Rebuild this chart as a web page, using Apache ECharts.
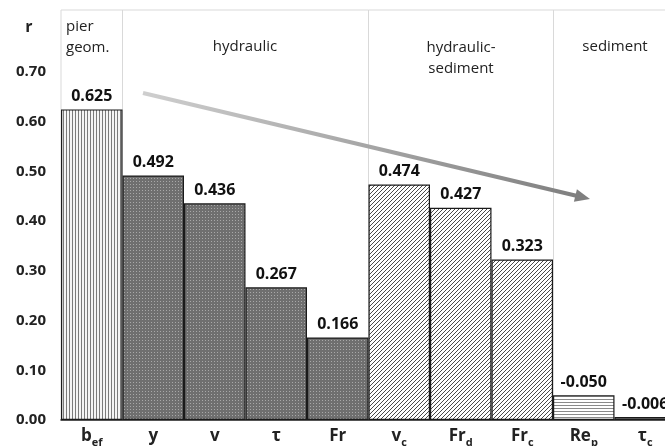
<!DOCTYPE html>
<html>
<head>
<meta charset="utf-8">
<script src="https://cdn.jsdelivr.net/npm/echarts@6/dist/echarts.min.js"></script>
<style>
  html, body { margin: 0; padding: 0; background: #fff; overflow: hidden; }
  #chart { width: 676px; height: 446px; }
</style>
</head>
<body>
<div id="chart"></div>
<script>
// 变量：主符号 + 下标
const catBase = ["b", "y", "v", "τ", "Fr", "v", "Fr", "Fr", "Re", "τ"];
const catSub = ["ef", "", "", "", "", "c", "d", "c", "p", "c"];
// 相关系数 r
const rValues = [0.625, 0.492, 0.436, 0.267, 0.166, 0.474, 0.427, 0.323, -0.050, -0.006];
// 所属类别
const groupOf = ["pier", "hyd", "hyd", "hyd", "hyd", "hydsed", "hydsed", "hydsed", "sed", "sed2"];
const yTicks = [0, 0.1, 0.2, 0.3, 0.4, 0.5, 0.6, 0.7];

const font = "'Open Sans', 'Noto Sans', sans-serif";

// 画填充图案
function makePattern(w, h, bg, draw) {
  const c = document.createElement("canvas");
  c.width = w;
  c.height = h;
  const ctx = c.getContext("2d");
  ctx.fillStyle = bg;
  ctx.fillRect(0, 0, w, h);
  draw(ctx);
  return { image: c, repeat: "repeat" };
}
const patterns = {
  pier: makePattern(3, 3, "#f4f4f4", ctx => {
    ctx.fillStyle = "#7a7a7a";
    ctx.fillRect(0, 0, 1, 3);
  }),
  hyd: makePattern(3, 3, "#6f6f6f", ctx => {
    ctx.fillStyle = "#a8a8a8";
    ctx.fillRect(1, 1, 1, 1);
  }),
  hydsed: makePattern(4, 4, "#ffffff", ctx => {
    ctx.strokeStyle = "#4a4a4a";
    ctx.lineWidth = 1;
    ctx.beginPath();
    ctx.moveTo(-1, 5);
    ctx.lineTo(5, -1);
    ctx.moveTo(-1, 1);
    ctx.lineTo(1, -1);
    ctx.moveTo(3, 5);
    ctx.lineTo(5, 3);
    ctx.stroke();
  }),
  sed: makePattern(3, 3, "#ffffff", ctx => {
    ctx.fillStyle = "#8a8a8a";
    ctx.fillRect(0, 0, 3, 1);
  }),
  sed2: "#8c8c8c"
};

const chartDom = document.getElementById("chart");
const chart = echarts.init(chartDom, null, { renderer: "canvas" });

const barData = rValues.map((v, i) => ({
  value: Math.abs(v),
  raw: v,
  itemStyle: { color: patterns[groupOf[i]] }
}));

// 箭头
const ax1 = 143, ay1 = 93, tipX = 590, tipY = 199;
const dx = tipX - ax1, dy = tipY - ay1;
const len = Math.sqrt(dx * dx + dy * dy);
const ux = dx / len, uy = dy / len;
const headL = 15, headW = 6.5;
const bx = tipX - ux * headL, by = tipY - uy * headL;

const textStyle = (txt, align) => ({
  text: txt,
  font: "15px " + font,
  fill: "#222",
  align: align || "center",
  verticalAlign: "middle",
  lineHeight: 21
});

const option = {
  animation: false,
  backgroundColor: "#fff",
  grid: {
    left: 61,
    right: 0,
    top: 10,
    bottom: 26,
    outerBoundsMode: "none",
    containLabel: false,
    show: true,
    borderColor: "#d9d9d9",
    borderWidth: 1
  },
  xAxis: {
    type: "category",
    data: catBase.map((b, i) => i),
    axisTick: { show: false },
    axisLine: { show: true, lineStyle: { color: "#222", width: 1.5 } },
    splitLine: {
      show: true,
      interval: (idx) => idx === 1 || idx === 5 || idx === 8,
      lineStyle: { color: "#d9d9d9", width: 1 }
    },
    axisLabel: {
      interval: 0,
      margin: 5,
      formatter: (v) => {
        const i = Number(v);
        return catSub[i] ? "{b|" + catBase[i] + "}{s|" + catSub[i] + "}" : "{b|" + catBase[i] + "}";
      },
      rich: {
        b: { fontFamily: font, fontWeight: "bold", fontSize: 17, lineHeight: 20, color: "#222", verticalAlign: "bottom" },
        s: { fontFamily: font, fontWeight: "bold", fontSize: 11, lineHeight: 20, color: "#222", verticalAlign: "bottom", padding: [0, 0, -3, 0] }
      }
    }
  },
  yAxis: {
    type: "value",
    min: 0,
    max: 0.825,
    interval: 0.1,
    axisLine: { show: false },
    axisTick: { show: false },
    splitLine: { show: false },
    axisLabel: {
      margin: 15,
      fontFamily: font,
      fontWeight: "bold",
      fontSize: 15,
      color: "#222",
      formatter: (v) => (yTicks.some(t => Math.abs(t - v) < 1e-6) ? v.toFixed(2) : ""),
      showMaxLabel: false
    }
  },
  series: [
    {
      type: "bar",
      data: barData,
      barCategoryGap: "0%",
      itemStyle: { borderColor: "#1a1a1a", borderWidth: 1.2 },
      label: {
        show: true,
        position: "top",
        distance: 5,
        fontFamily: font,
        fontWeight: "bold",
        fontSize: 16,
        color: "#111",
        formatter: (p) => p.data.raw.toFixed(3)
      }
    }
  ],
  graphic: [
    {
      type: "text",
      x: 29,
      y: 27,
      style: { text: "r", font: "bold 16px " + font, fill: "#222", align: "center", verticalAlign: "middle" }
    },
    { type: "text", x: 66, y: 37, style: textStyle("pier\ngeom.", "left") },
    { type: "text", x: 245, y: 47, style: textStyle("hydraulic") },
    { type: "text", x: 461, y: 58, style: textStyle("hydraulic-\nsediment") },
    { type: "text", x: 615, y: 47, style: textStyle("sediment") },
    {
      type: "line",
      shape: { x1: ax1, y1: ay1, x2: bx + ux * 2, y2: by + uy * 2 },
      style: {
        stroke: new echarts.graphic.LinearGradient(0, 0, 1, 0, [
          { offset: 0, color: "#cfcfcf" },
          { offset: 1, color: "#7f7f7f" }
        ]),
        lineWidth: 4
      },
      z: 10
    },
    {
      type: "polygon",
      shape: {
        points: [
          [tipX, tipY],
          [bx - uy * headW, by + ux * headW],
          [bx + uy * headW, by - ux * headW]
        ]
      },
      style: { fill: "#7f7f7f" },
      z: 10
    }
  ]
};

chart.setOption(option);
</script>
</body>
</html>
